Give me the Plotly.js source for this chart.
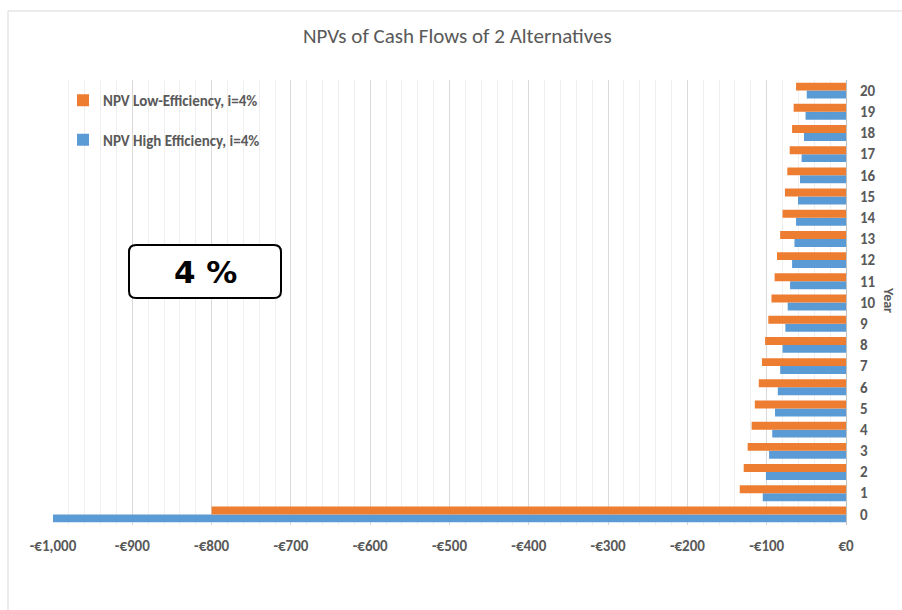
<!DOCTYPE html>
<html>
<head>
<meta charset="utf-8">
<script src="https://cdn.plot.ly/plotly-3.0.1.min.js"></script>
<style>html,body{margin:0;padding:0;background:#fff;}#chart{width:902px;height:610px;}</style>
</head>
<body>
<div id="chart"></div>
<script>
// ---- data ----
const years = ["0","1","2","3","4","5","6","7","8","9","10","11","12","13","14","15","16","17","18","19","20"];
const npvHigh = [-1000,-105,-101,-97,-93,-89.5,-86,-83,-80,-76.5,-73.5,-70.5,-68,-65,-63,-60.5,-58,-56,-53,-51,-49.5];
const npvLow  = [-800,-134,-129,-124,-119,-115,-110,-106,-102,-98,-94,-90,-87,-83,-80,-77,-74,-71,-68,-66,-63];
const seriesNames = ["NPV High Efficiency, i=4%","NPV Low-Efficiency, i=4%"];
const xTickVals = [-1000,-900,-800,-700,-600,-500,-400,-300,-200,-100,0];
const xTickText = ["-€1,000","-€900","-€800","-€700","-€600","-€500","-€400","-€300","-€200","-€100","€0"];
const chartTitle = "NPVs of Cash Flows of 2 Alternatives";
const rateLabel = "4 %";
const yTitle = "Year";

// ---- layout helpers (pixel -> paper) ----
const W = 902, H = 610, mL = 53, mR = 56, mT = 80, mB = 85;
const pw = W - mL - mR, ph = H - mT - mB;
const px = x => (x - mL) / pw;
const py = y => (H - mB - y) / ph;

const FONT = "Carlito, Lato, 'Open Sans', sans-serif";
const grey = "#595959";

const traces = [
  {type:"bar", orientation:"h", y:years, x:npvHigh, name:seriesNames[0], legendgroup:"b", legendrank:2,
   marker:{color:"#5B9BD5"}, hoverinfo:"x+y"},
  {type:"bar", orientation:"h", y:years, x:npvLow, name:seriesNames[1], legendgroup:"a", legendrank:1,
   marker:{color:"#ED7D31"}, hoverinfo:"x+y"}
];

// rounded box
function roundRect(x0,y0,x1,y1,r){
  const rx = r/pw, ry = r/ph;
  const X0=px(x0), X1=px(x1), Y0=py(y0), Y1=py(y1);
  return `M ${X0+rx},${Y0} L ${X1-rx},${Y0} Q ${X1},${Y0} ${X1},${Y0-ry} L ${X1},${Y1+ry} Q ${X1},${Y1} ${X1-rx},${Y1} L ${X0+rx},${Y1} Q ${X0},${Y1} ${X0},${Y1+ry} L ${X0},${Y0-ry} Q ${X0},${Y0} ${X0+rx},${Y0} Z`;
}

const layout = {
  width: W, height: H,
  margin: {l:mL, r:mR, t:mT, b:mB},
  paper_bgcolor:"#fff", plot_bgcolor:"#fff",
  font: {family: FONT, color: grey},
  title: {text: chartTitle, font:{family:FONT, size:21, color:grey},
          x: 460/W, xanchor:"center", xref:"paper", y: 1-36/H, yanchor:"middle", yref:"container"},
  barmode: "group", bargap: 0.25, bargroupgap: 0,
  showlegend: true,
  legend: {x: px(63), y: py(84), xanchor:"left", yanchor:"top", traceorder:"grouped",
           tracegroupgap: 17, itemwidth: 30, bgcolor:"rgba(0,0,0,0)",
           font:{family:FONT, size:15, color:grey, weight:"bold"}},
  xaxis: {range:[-1000,0], tickmode:"array", tickvals:xTickVals, ticktext:xTickText,
          showgrid:true, gridcolor:"#d9d9d9", gridwidth:1,
          minor:{tickmode:"linear", tick0:0, dtick:20, showgrid:true, gridcolor:"#efefef", gridwidth:1},
          zeroline:true, zerolinecolor:"#bfbfbf", zerolinewidth:1,
          showline:false, ticks:"", ticklabelstandoff: 10,
          tickfont:{family:FONT, size:15, color:grey, weight:"bold"}, fixedrange:true},
  yaxis: {type:"category", side:"right", range:[-0.5, 20.5], showgrid:false, zeroline:false,
          showline:false, ticks:"", ticklabelstandoff: 13,
          tickfont:{family:FONT, size:15, color:grey, weight:"bold"}, fixedrange:true},
  shapes: [
    {type:"line", xref:"paper", yref:"paper", x0:px(8), x1:px(902), y0:py(11), y1:py(11),
     line:{color:"#d9d9d9", width:1}},
    {type:"line", xref:"paper", yref:"paper", x0:px(8), x1:px(8), y0:py(11), y1:py(610),
     line:{color:"#d9d9d9", width:1}},
    {type:"path", xref:"paper", yref:"paper", path: roundRect(129,245,281,298,7),
     fillcolor:"#ffffff", line:{color:"#000000", width:2}}
  ],
  annotations: [
    {text: rateLabel, xref:"paper", yref:"paper", x: px(205), y: py(272), showarrow:false,
     xanchor:"center", yanchor:"middle", font:{family:"'DejaVu Sans', Verdana, sans-serif", size:31, color:"#000", weight:"bold"}},
    {text: yTitle, xref:"paper", yref:"paper", x: px(889), y: py(300), showarrow:false,
     textangle: 90, xanchor:"center", yanchor:"middle", font:{family:FONT, size:14, color:grey, weight:"bold"}}
  ]
};

Plotly.newPlot("chart", traces, layout, {displayModeBar:false, staticPlot:true});
</script>
</body>
</html>
